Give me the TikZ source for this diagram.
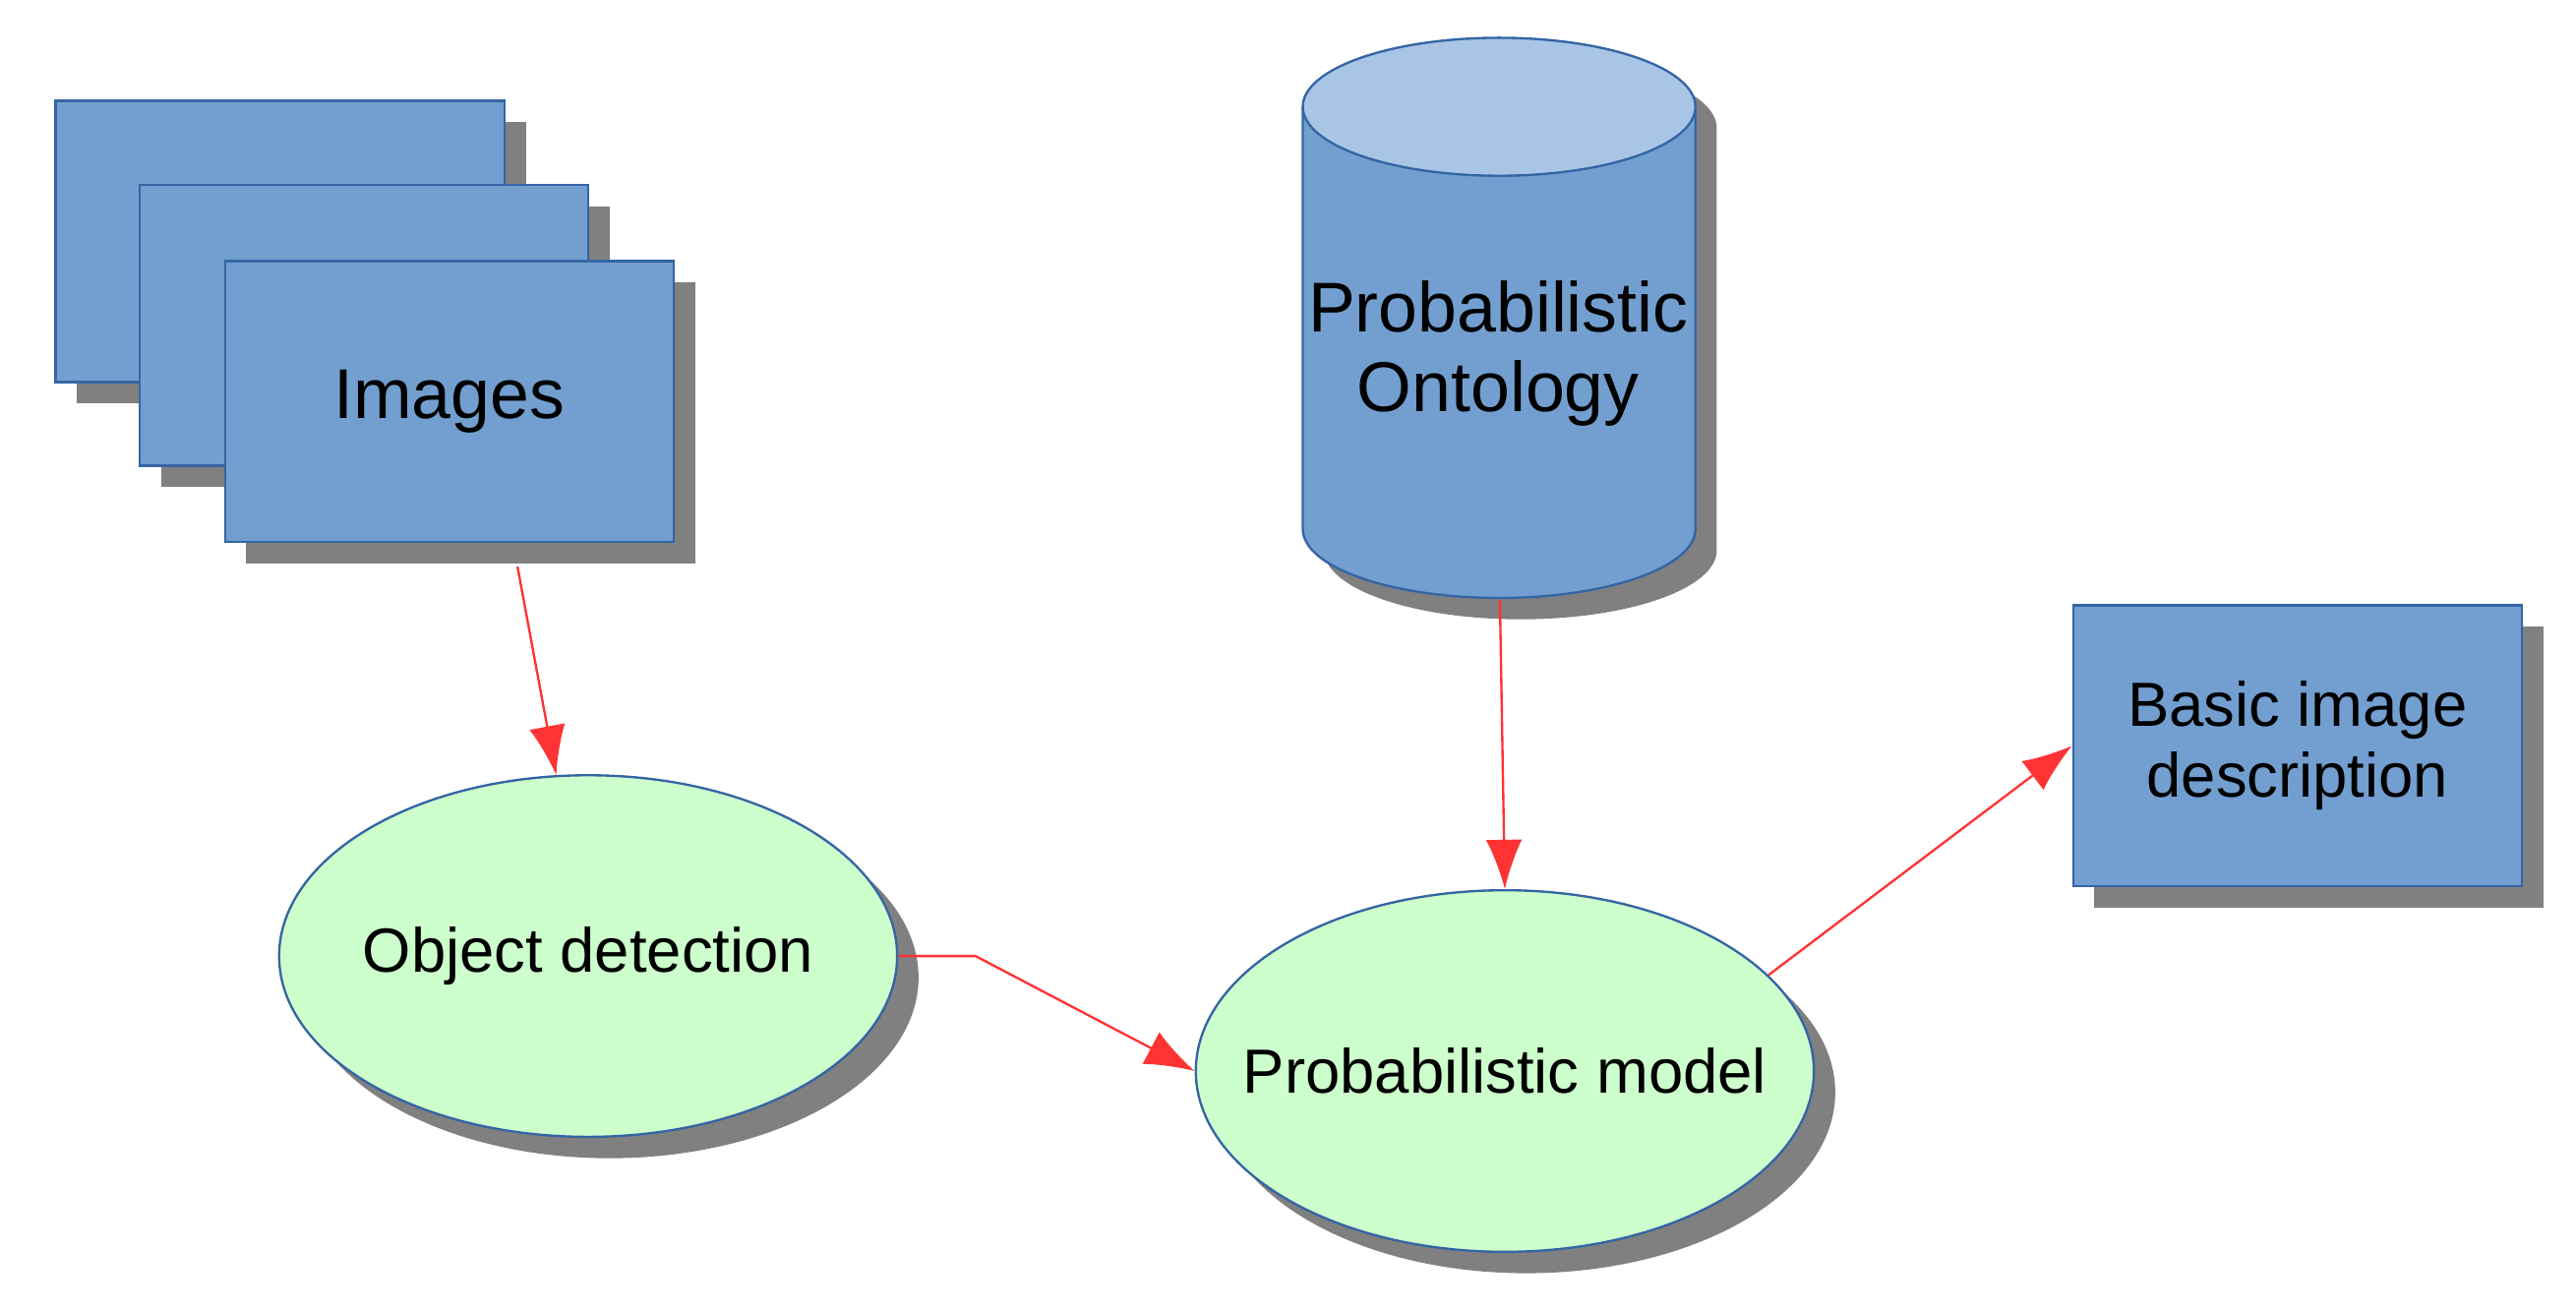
\documentclass[tikz,border=0pt]{standalone}
\usepackage{fontspec}
\setmainfont{Liberation Sans}
\usetikzlibrary{arrows.meta, shadows, positioning}
\usetikzlibrary{shapes.geometric}
\definecolor{boxblue}{HTML}{729FCF}
\definecolor{lineblue}{HTML}{3465A4}
\definecolor{topblue}{HTML}{A9C5E5}
\definecolor{paleg}{HTML}{CCFFCC}
\tikzset{
	shade/.style={drop shadow={shadow xshift=0.13cm, shadow yshift=-0.13cm, fill=gray, opacity=1}},
	card/.style={rectangle, draw=lineblue, fill=boxblue, shade, minimum width=2.73cm, minimum height=1.71cm, align=center, inner sep=0pt},
	blob/.style={ellipse, draw=lineblue, fill=paleg, shade, minimum width=3.76cm, minimum height=2.2cm, inner xsep=-1cm, inner ysep=0pt},
	flow/.style={red!80, -{Latex[length=0.3cm, width=0.22cm]}}
}
\begin{document}
\begin{tikzpicture}[x=0.01cm, y=-0.01cm, font=\fontsize{10.8}{13}\selectfont]
	\useasboundingbox (0,0) rectangle (1568,797);

	% stacked images
	\node[card] (img1) at (170.5,147) {};
	\node[card] (img2) at (221.5,198) {};
	\node[card] (img3) at (273.5,244.5) {\fontsize{12.2}{14}\selectfont Images};

	% ontology cylinder
	\fill[gray] (806,78) -- (806,335) arc (180:0:119.5 and 42) -- (1045,78) arc (360:180:119.5 and 42) -- cycle;
	\draw[lineblue, fill=boxblue] (793,65) -- (793,322) arc (180:0:119.5 and 42) -- (1032,65);
	\draw[lineblue, fill=topblue] (912.5,65) ellipse (119.5 and 42);
	\node[align=center, font=\fontsize{12.2}{13.8}\selectfont] (onto) at (912,215) {Probabilistic\\Ontology};
	\coordinate (ontobot) at (913,365);

	\node[card, font=\fontsize{10.8}{12.2}\selectfont] (desc) at (1398.5,454) {Basic image\\description};

	\node[blob] (det) at (358,582) {Object detection};
	\node[blob] (model) at (916,652) {Probabilistic model};

	% connectors
	\coordinate (imgout) at (315,345);
	\draw[flow] (imgout) -- (det.100);
	\draw[flow] (ontobot) -- (model.north);
	\draw[flow] (det.east) -- ++(47,0) -- (model.west);
	\draw[flow] (model.20) -- (desc.west);

\end{tikzpicture}
\end{document}
